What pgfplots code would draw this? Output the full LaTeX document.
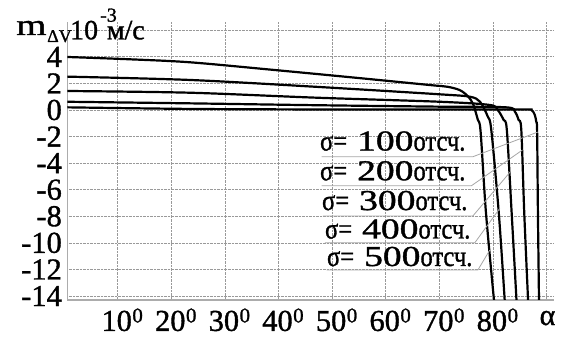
\documentclass[border=0pt]{standalone}
\usepackage{fontspec}
\setmainfont{Liberation Serif}[FakeBold=1.2]
\usepackage{graphicx}
\usepackage{pgfplots}
\pgfplotsset{compat=1.18}

% angle tick label: number with a raised small zero
\newcommand{\dg}[1]{#1\kern0.5bp{\fontsize{21}{21}\selectfont\raisebox{8.5bp}{0}}}
% curve legend text: sigma = N samples
\newcommand{\sig}[1]{{\rmfamily\fontsize{29}{29}\selectfont\scalebox{0.85}[1]{σ=}\hspace{10bp}\scalebox{1.3}[1]{#1}\scalebox{0.85}[1]{отсч.}}}

\begin{document}
\begin{tikzpicture}[font=\rmfamily]
\path[use as bounding box] (-67.3bp,-38bp) rectangle (500.7bp,300bp);
\begin{axis}[
  scale only axis,
  width=486.7bp, height=277.7bp,
  xmin=0.6, xmax=91.4, ymin=-14.3, ymax=6.6,
  axis x line*=bottom, axis y line*=left,
  axis line style={gray!65, line width=1.2bp, -},
  xtick={10,20,...,90},
  xticklabels={\dg{10},\dg{20},\dg{30},\dg{40},\dg{50},\dg{60},\dg{70},\dg{80},{}},
  ytick={-14,-12,...,6},
  yticklabels={-14,-12,-10,-8,-6,-4,-2,0,2,4,{}},
  major tick length=0pt,
  tick style={draw=none},
  grid=major,
  major grid style={gray!80, densely dotted, line width=0.7bp},
  tick label style={font=\rmfamily\fontsize{30.5}{30.5}\selectfont, inner sep=0pt},
  xticklabel style={anchor=north, yshift=-8.3bp, xshift=4.5bp},
  yticklabel style={anchor=east, xshift=-5.3bp},
]
% sigma = 500
\addplot[black, line width=2.2bp, smooth, tension=0.5] coordinates {(0.6,3.99) (12,3.82) (23.5,3.59) (39,3.02) (54.6,2.42) (68.2,1.88)
  (71.5,1.75) (73.8,1.5) (75.3,1.05) (76.3,0.45) (77.2,-0.75) (77.7,-1.6) (78.7,-7.7) (80.2,-14.3)};
% sigma = 400
\addplot[black, line width=2.2bp, smooth, tension=0.5] coordinates {(0.6,2.51) (23.5,2.26) (46.8,1.75) (70.1,1.18) (75.7,1.0) (77.6,0.62)
  (79.05,-0.5) (79.7,-1.5) (81.1,-7.75) (82.2,-14.3)};
% sigma = 300
\addplot[black, line width=2.2bp, smooth, tension=0.5] coordinates {(0.6,1.43) (23.5,1.30) (46.8,0.93) (70.1,0.62) (79.4,0.38) (80.9,0.0)
  (82.0,-0.75) (82.6,-1.5) (83.5,-7.75) (84.4,-14.3)};
% sigma = 200
\addplot[black, line width=2.2bp, smooth, tension=0.5] coordinates {(0.6,0.62) (23.5,0.50) (47,0.36) (70.1,0.25) (82.5,0.2) (84.1,-0.13)
  (84.8,-0.75) (85.3,-1.5) (85.85,-7.75) (86.56,-14.3)};
% sigma = 100
\addplot[black, line width=2.2bp, smooth, tension=0.5] coordinates {(0.6,0.2) (23.5,0.08) (47,0.04) (70.1,0.03) (86,0.03) (87.2,0.0)
  (87.8,-0.35) (88.1,-0.9) (88.25,-1.6) (88.4,-7.75) (88.6,-14.3)};

% legend texts with leader lines
\draw[gray!70, line width=0.8bp] (axis cs:48.04,-3.52) -- (axis cs:76.25,-3.52) -- (axis cs:88.37,-1.66);
\draw[gray!70, line width=0.8bp] (axis cs:48.04,-5.70) -- (axis cs:76.0,-5.70) -- (axis cs:85.52,-3.01);
\draw[gray!70, line width=0.8bp] (axis cs:48.28,-7.98) -- (axis cs:76.25,-7.98) -- (axis cs:83.28,-4.64);
\draw[gray!70, line width=0.8bp] (axis cs:48.65,-9.99) -- (axis cs:76.63,-9.99) -- (axis cs:81.29,-7.40);
\draw[gray!70, line width=0.8bp] (axis cs:49.0,-12.04) -- (axis cs:77.2,-12.04) -- (axis cs:79.42,-10.54);
\node[anchor=base west, inner sep=0pt] at (axis cs:47.72,-3.05) {\sig{100}};
\node[anchor=base west, inner sep=0pt] at (axis cs:47.72,-5.29) {\sig{200}};
\node[anchor=base west, inner sep=0pt] at (axis cs:48.09,-7.53) {\sig{300}};
\node[anchor=base west, inner sep=0pt] at (axis cs:48.65,-9.67) {\sig{400}};
\node[anchor=base west, inner sep=0pt] at (axis cs:49.02,-11.74) {\sig{500}};
\end{axis}
% axis names
\node[anchor=base, inner sep=0pt] at (480.2bp,-25bp) {\fontsize{30}{30}\selectfont α};
\node[anchor=base west, inner sep=0pt] at (-51.3bp,265bp) {\fontsize{30}{30}\selectfont\scalebox{1.3}[1]{m}};
\node[anchor=base west, inner sep=0pt] at (-20.3bp,258bp) {\fontsize{18}{18}\selectfont ΔV};
\node[anchor=base west, inner sep=0pt] at (2.7bp,260.7bp) {\fontsize{28}{28}\selectfont 10};
\node[anchor=base west, inner sep=0pt] at (32.7bp,278.3bp) {\fontsize{20}{20}\selectfont -3};
\node[anchor=base west, inner sep=0pt] at (39.4bp,260.7bp) {\fontsize{28}{28}\selectfont м/с};
\end{tikzpicture}
\end{document}
